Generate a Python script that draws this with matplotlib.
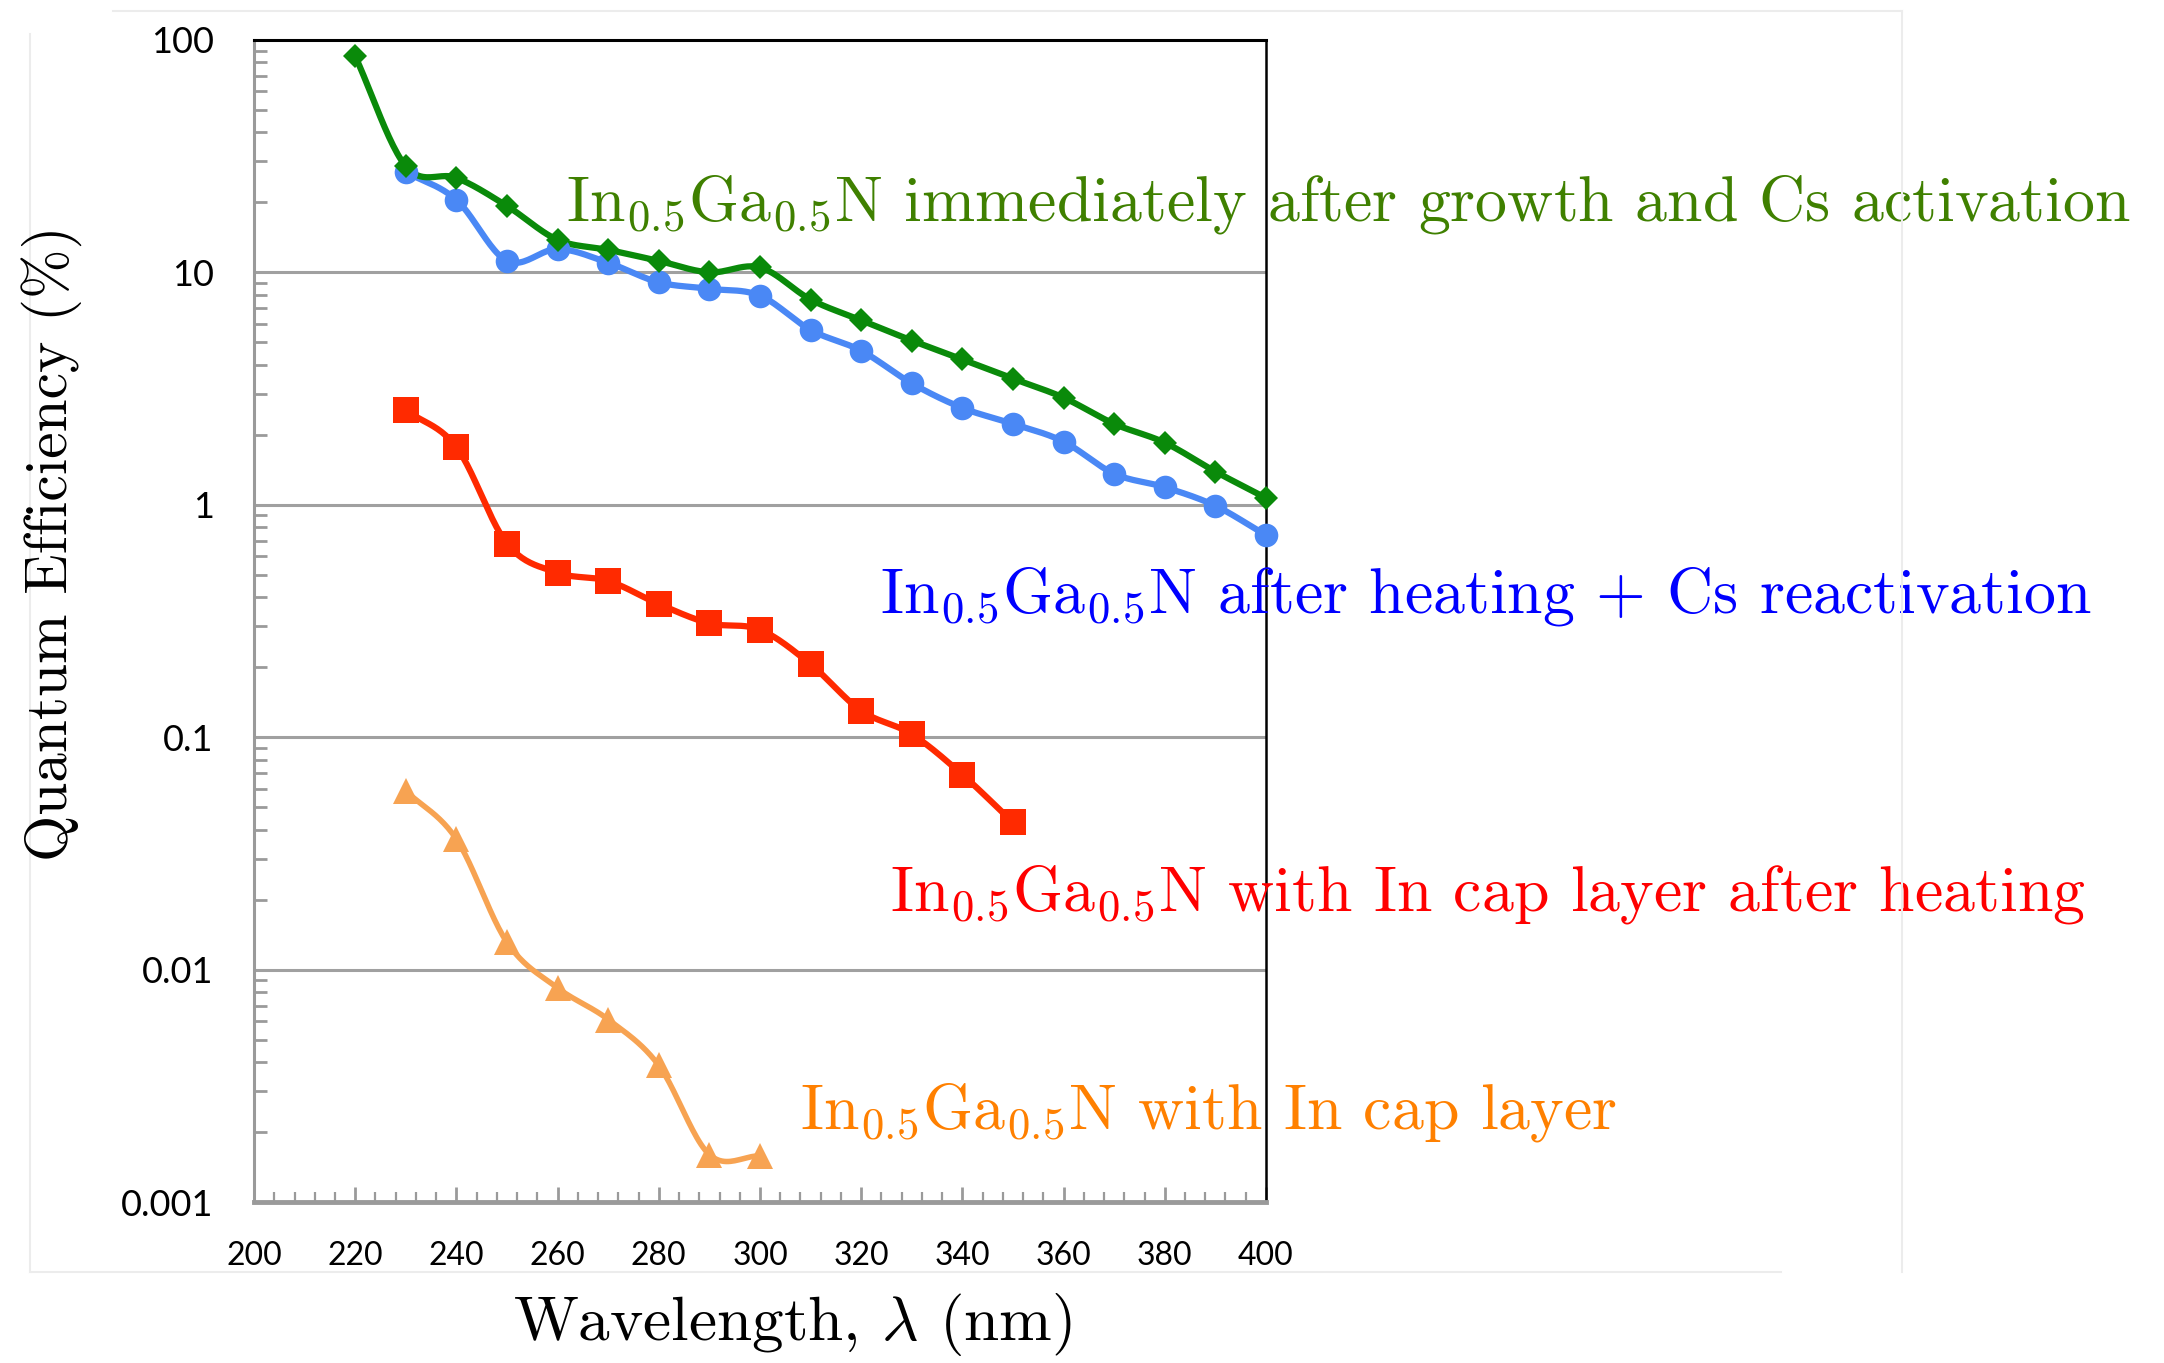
import numpy as np
import matplotlib
matplotlib.use("Agg")
import matplotlib.pyplot as plt
from matplotlib.lines import Line2D
from matplotlib.ticker import FixedLocator, NullFormatter, FixedFormatter

# Quantum efficiency (%) versus wavelength (nm)
wl_fresh = [220, 230, 240, 250, 260, 270, 280, 290, 300, 310,
            320, 330, 340, 350, 360, 370, 380, 390, 400]
qe_fresh = [85, 28.6, 25.5, 19.3, 13.8, 12.5, 11.2, 10.0, 10.5, 7.64,
            6.22, 5.09, 4.22, 3.49, 2.89, 2.23, 1.85, 1.39, 1.07]

wl_react = [230, 240, 250, 260, 270, 280, 290, 300, 310,
            320, 330, 340, 350, 360, 370, 380, 390, 400]
qe_react = [27.0, 20.5, 11.2, 12.6, 11.0, 9.06, 8.5, 7.94, 5.65,
            4.6, 3.33, 2.61, 2.23, 1.87, 1.36, 1.19, 0.99, 0.74]

wl_cap_heated = [230, 240, 250, 260, 270, 280, 290, 300, 310, 320, 330, 340, 350]
qe_cap_heated = [2.55, 1.77, 0.68, 0.51, 0.47, 0.374, 0.309, 0.29, 0.206,
                 0.13, 0.103, 0.069, 0.043]

wl_cap = [230, 240, 250, 260, 270, 280, 290, 300]
qe_cap = [0.0587, 0.0364, 0.0131, 0.00834, 0.0061, 0.00387, 0.0016, 0.00158]

x_ticks = [200, 220, 240, 260, 280, 300, 320, 340, 360, 380, 400]
y_ticks = [0.001, 0.01, 0.1, 1, 10, 100]
y_tick_labels = ["0.001", "0.01", "0.1", "1", "10", "100"]

label_fresh = r"In$_{0.5}$Ga$_{0.5}$N immediately after growth and Cs activation"
label_react = r"In$_{0.5}$Ga$_{0.5}$N after heating + Cs reactivation"
label_cap_heated = r"In$_{0.5}$Ga$_{0.5}$N with In cap layer after heating"
label_cap = r"In$_{0.5}$Ga$_{0.5}$N with In cap layer"

plt.rcParams["mathtext.fontset"] = "cm"


def smooth(xs, ys, n=24):
    """Catmull-Rom curve through the points, computed in (x, log10 y)."""
    x = np.asarray(xs, float)
    y = np.log10(np.asarray(ys, float))
    px = np.concatenate([[2 * x[0] - x[1]], x, [2 * x[-1] - x[-2]]])
    py = np.concatenate([[2 * y[0] - y[1]], y, [2 * y[-1] - y[-2]]])
    out_x, out_y = [], []
    t = np.linspace(0, 1, n, endpoint=False)
    for i in range(1, len(px) - 2):
        for arr, out in ((px, out_x), (py, out_y)):
            p0, p1, p2, p3 = arr[i - 1], arr[i], arr[i + 1], arr[i + 2]
            seg = 0.5 * ((2 * p1) + (-p0 + p2) * t
                         + (2 * p0 - 5 * p1 + 4 * p2 - p3) * t ** 2
                         + (-p0 + 3 * p1 - 3 * p2 + p3) * t ** 3)
            out.extend(seg)
    out_x.append(x[-1])
    out_y.append(y[-1])
    return np.array(out_x), 10 ** np.array(out_y)


fig = plt.figure(figsize=(21.64, 13.63), dpi=100)
fig.patch.set_facecolor("white")

# faint chart-area frame
frame_color = "#ECECEC"
for (x0, y0, x1, y1) in [(0.052, 0.992, 0.879, 0.992),
                         (0.879, 0.992, 0.879, 0.067),
                         (0.014, 0.067, 0.823, 0.067),
                         (0.014, 0.975, 0.014, 0.067)]:
    fig.add_artist(Line2D([x0, x1], [y0, y1], color=frame_color, lw=1.5,
                          transform=fig.transFigure))

ax = fig.add_axes([0.1174, 0.1181, 0.4676, 0.8526])
ax.set_yscale("log")
ax.set_xlim(200, 400)
ax.set_ylim(0.001, 100)

series = [
    (wl_cap, qe_cap, "#F7A352", "^", 19, 4.0),
    (wl_cap_heated, qe_cap_heated, "#FF2A00", "s", 19, 4.5),
    (wl_react, qe_react, "#4A88F5", "o", 17, 4.5),
    (wl_fresh, qe_fresh, "#0A8A0A", "D", 12, 4.5),
]
for xs, ys, color, marker, ms, lw in series:
    sx, sy = smooth(xs, ys)
    ax.plot(sx, sy, color=color, lw=lw, solid_capstyle="round", zorder=3)
    ax.plot(xs, ys, linestyle="none", marker=marker, markersize=ms,
            color=color, markeredgewidth=0, zorder=4, clip_on=False)

# gridlines at the inner decades
for v in [0.01, 0.1, 1, 10]:
    ax.axhline(v, color="#A0A0A0", lw=2.2, zorder=1)

# spines
ax.spines["top"].set_color("black")
ax.spines["top"].set_linewidth(2.2)
ax.spines["right"].set_color("black")
ax.spines["right"].set_linewidth(1.8)
ax.spines["left"].set_color("#9A9A9A")
ax.spines["left"].set_linewidth(2.2)
ax.spines["bottom"].set_color("#9A9A9A")
ax.spines["bottom"].set_linewidth(3.5)

# y ticks
ax.yaxis.set_major_locator(FixedLocator(y_ticks))
ax.yaxis.set_major_formatter(FixedFormatter(y_tick_labels))
minor_y = [m * 10.0 ** e for e in range(-3, 2) for m in range(2, 10)]
ax.yaxis.set_minor_locator(FixedLocator(minor_y))
ax.yaxis.set_minor_formatter(NullFormatter())
ax.tick_params(axis="y", which="major", length=0, pad=29,
               labelsize=26, labelfontfamily="Lato")
ax.tick_params(axis="y", which="minor", direction="in", length=9,
               width=2, color="#9A9A9A")

# x ticks
ax.xaxis.set_major_locator(FixedLocator(x_ticks))
ax.xaxis.set_minor_locator(FixedLocator(list(range(204, 400, 4))))
ax.tick_params(axis="x", which="major", direction="in", length=11,
               width=2, color="#9A9A9A", pad=28, labelsize=23,
               labelfontfamily="Lato")
ax.tick_params(axis="x", which="minor", direction="in", length=7,
               width=1.6, color="#9A9A9A")
ax.tick_params(top=False, right=False)

# curve labels
txt = dict(fontfamily="cmr10", fontsize=46, clip_on=False, va="baseline")
ax.text(261.7, 16.7, label_fresh, color="#3F8000", **txt)
ax.text(323.7, 0.344, label_react, color="#0000FF", **txt)
ax.text(325.7, 0.0179, label_cap_heated, color="#FF0000", **txt)
ax.text(307.9, 0.00207, label_cap, color="#FF8000", **txt)

# axis titles
fig.text(0.366, 0.004, r"Wavelength, $\lambda$ (nm)", fontfamily="cmr10",
         fontsize=45.5, ha="center", va="bottom")
fig.text(0.0236, 0.6016, "Quantum Efficiency (%)", fontfamily="cmr10",
         fontsize=42.8, ha="center", va="center", rotation=90)

fig.savefig("out.png", dpi=100)
